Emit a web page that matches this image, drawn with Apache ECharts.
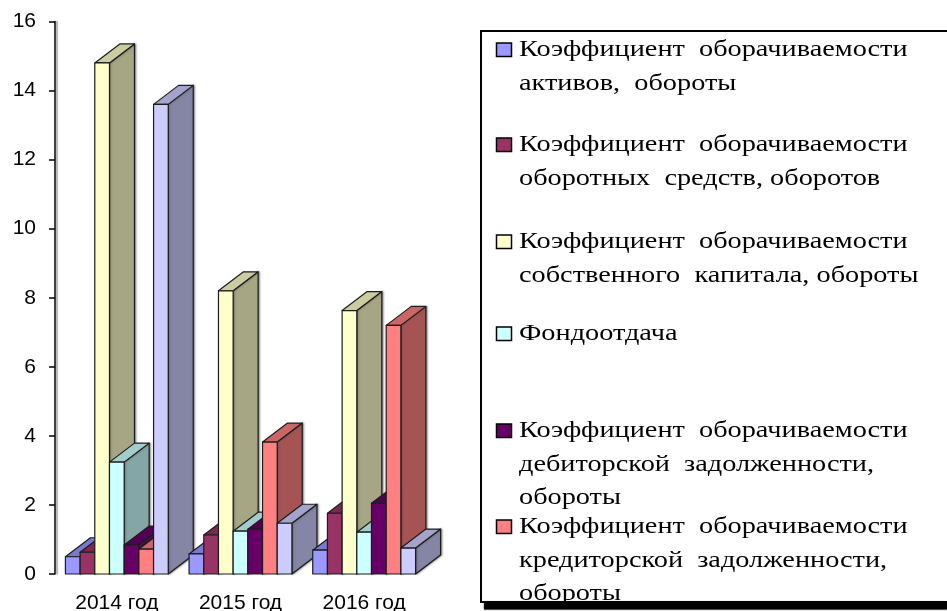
<!DOCTYPE html>
<html>
<head>
<meta charset="utf-8">
<style>html,body{margin:0;padding:0;background:#fff}#chart{width:947px;height:611px}</style>
<script src="https://cdn.jsdelivr.net/npm/echarts@6/dist/echarts.min.js"></script>
</head>
<body>
<div id="chart"></div>
<script>
// Turnover ratios by year
const years = ['2014 год', '2015 год', '2016 год'];
const assetTurnover      = [0.5, 0.58, 0.69];
const workingCapital     = [0.63, 1.13, 1.76];
const equityTurnover     = [14.8, 8.2, 7.63];
const capitalProductivity = [3.24, 1.24, 1.21];
const receivables        = [0.84, 1.3, 2.05];
const payables           = [0.72, 3.82, 7.2];
const inventories        = [13.6, 1.47, 0.75];

const seriesValues = [assetTurnover, workingCapital, equityTurnover, capitalProductivity, receivables, payables, inventories];
const seriesColors = ['#9999FF', '#993366', '#FFFFCC', '#CCFFFF', '#660066', '#FF8080', '#CCCCFF'];
const seriesNames = [
  'Коэффициент оборачиваемости активов, обороты',
  'Коэффициент оборачиваемости оборотных средств, оборотов',
  'Коэффициент оборачиваемости собственного капитала, обороты',
  'Фондоотдача',
  'Коэффициент оборачиваемости дебиторской задолженности, обороты',
  'Коэффициент оборачиваемости кредиторской задолженности, обороты',
  'Коэффициент оборачиваемости запасов, обороты'
];

// Legend entries: wrapped lines and the vertical position of each entry
const legendLines = [
  ['Коэффициент  оборачиваемости', 'активов,  обороты'],
  ['Коэффициент  оборачиваемости', 'оборотных  средств, оборотов'],
  ['Коэффициент  оборачиваемости', 'собственного  капитала, обороты'],
  ['Фондоотдача'],
  ['Коэффициент  оборачиваемости', 'дебиторской  задолженности,', 'обороты'],
  ['Коэффициент  оборачиваемости', 'кредиторской  задолженности,', 'обороты']
];
const legendTops = [50, 145, 242, 334, 431, 527];

const DEPTH_X = 25, DEPTH_Y = -19, BAR_SHARE = 0.1188, EDGE = '#1c1c1c';

function shade(hex, k) {
  const n = parseInt(hex.slice(1), 16);
  const c = [n >> 16, (n >> 8) & 255, n & 255].map(v => Math.round(v * k));
  return 'rgb(' + c.join(',') + ')';
}

// Each bar is a box: front face, side face and top face, projected with a fixed depth
function boxRenderer(seriesIndex) {
  return function (params, api) {
    const cat = api.value(0);
    const top = api.coord([cat, api.value(1)]);
    const base = api.coord([cat, 0]);
    const band = api.size([1, 0])[0];
    const w = band * BAR_SHARE;
    const x0 = top[0] + (seriesIndex - 3.5) * w;
    const x1 = x0 + w;
    const y0 = top[1], y1 = base[1];
    const color = seriesColors[seriesIndex];
    const z2 = cat * 10 + seriesIndex;
    const face = (points, fill, order, halo) => ({
      type: 'polygon',
      z2: z2 + order,
      shape: { points: points },
      style: Object.assign(
        { fill: fill, stroke: EDGE, lineWidth: 1.2, lineJoin: 'round' },
        halo ? { shadowBlur: 2, shadowColor: 'rgba(90,90,90,0.7)', shadowOffsetX: 1 } : {}
      )
    });
    return {
      type: 'group',
      children: [
        face([[x1, y1], [x1 + DEPTH_X, y1 + DEPTH_Y], [x1 + DEPTH_X, y0 + DEPTH_Y], [x1, y0]], shade(color, 0.65), 0, true),
        face([[x0, y0], [x0 + DEPTH_X, y0 + DEPTH_Y], [x1 + DEPTH_X, y0 + DEPTH_Y], [x1, y0]], shade(color, 0.8), 0, false),
        face([[x0, y0], [x1, y0], [x1, y1], [x0, y1]], color, 0.5, false)
      ]
    };
  };
}

const graphics = [];
// Legend frame with its hard drop shadow; the frame sits above the text and trims the last line
graphics.push({ type: 'rect', z: 100, silent: true, shape: { x: 484, y: 602, width: 463, height: 7.5 }, style: { fill: '#000', shadowBlur: 2, shadowColor: '#555' } });
graphics.push({ type: 'rect', z: 101, silent: true, shape: { x: 481, y: 31, width: 480, height: 571 }, style: { fill: 'none', stroke: '#000', lineWidth: 2 } });
legendLines.forEach((lines, i) => {
  graphics.push({
    type: 'rect', z: 50, silent: true,
    shape: { x: 496.5, y: legendTops[i] - 7, width: 15, height: 13.5 },
    style: { fill: seriesColors[i], stroke: '#000', lineWidth: 1.5 }
  });
  lines.forEach((line, j) => {
    graphics.push({
      type: 'text', z: 50, silent: true,
      x: 519, y: legendTops[i] + j * 33.5,
      scaleX: 1.23,
      style: { text: line, fill: '#000', font: '23px "Liberation Serif"', textVerticalAlign: 'middle', textAlign: 'left' }
    });
  });
});

const chart = echarts.init(document.getElementById('chart'), null, { renderer: 'canvas' });
chart.setOption({
  animation: false,
  backgroundColor: '#fff',
  grid: { left: 55, top: 21.5, width: 371, height: 552.5, containLabel: false, outerBoundsMode: 'none' },
  xAxis: {
    type: 'category',
    data: years,
    axisLine: { show: false },
    axisTick: { show: false },
    axisLabel: { margin: 19, color: '#000', fontFamily: 'Liberation Sans', fontSize: 21 }
  },
  yAxis: {
    type: 'value',
    min: 0, max: 16, interval: 2,
    splitLine: { show: false },
    axisLine: { show: true, lineStyle: { color: '#000', width: 1.5, shadowColor: '#999', shadowBlur: 1, shadowOffsetX: 2 } },
    axisTick: { show: true, length: 6, lineStyle: { color: '#000', width: 1.5 } },
    axisLabel: { margin: 19, color: '#000', fontFamily: 'Liberation Sans', fontSize: 21 }
  },
  series: seriesValues.map((values, i) => ({
    type: 'custom',
    name: seriesNames[i],
    coordinateSystem: 'cartesian2d',
    renderItem: boxRenderer(i),
    clip: false,
    silent: true,
    encode: { x: 0, y: 1 },
    data: values.map((v, c) => [c, v])
  })),
  graphic: { elements: graphics }
});
</script>
</body>
</html>
